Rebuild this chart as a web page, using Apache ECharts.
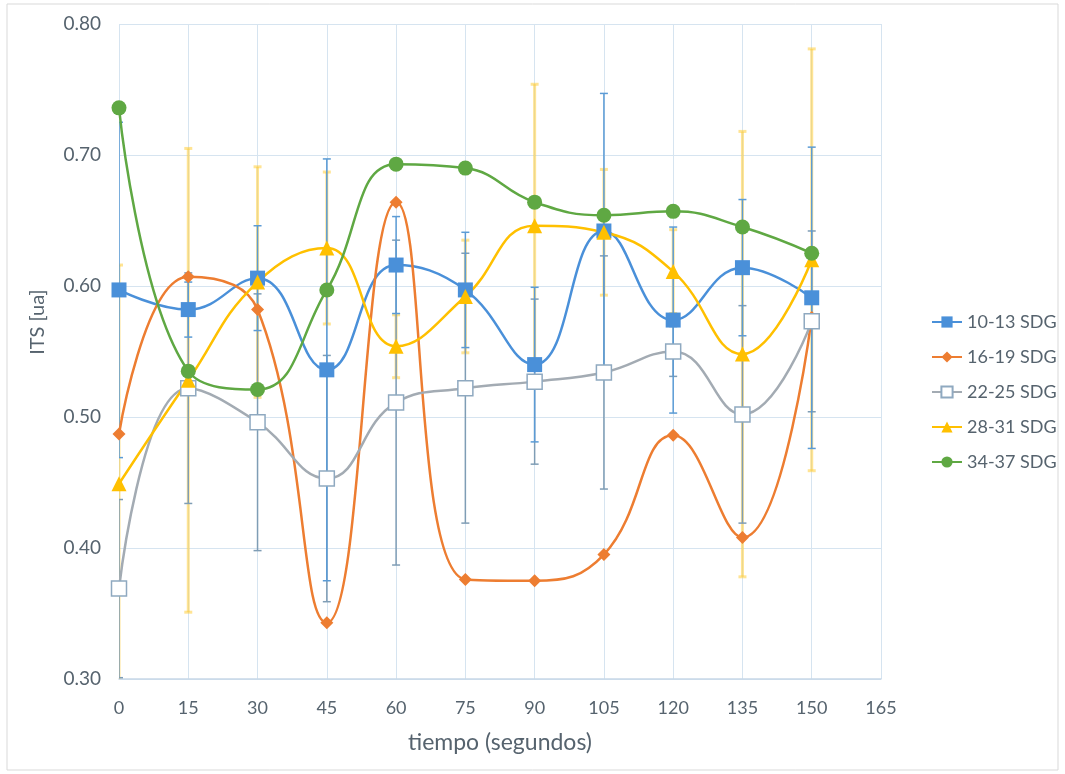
<!DOCTYPE html>
<html><head><meta charset="utf-8">
<script src="https://cdn.jsdelivr.net/npm/echarts@6/dist/echarts.min.js"></script>
<style>html,body{margin:0;padding:0;background:#fff}#c{width:1065px;height:774px}</style>
</head><body><div id="c"></div>
<script>
const times = [0,15,30,45,60,75,90,105,120,135,150];
const xTicks = [0,15,30,45,60,75,90,105,120,135,150,165];
const seriesNames = ['10-13 SDG','16-19 SDG','22-25 SDG','28-31 SDG','34-37 SDG'];
const s1013 = [0.597,0.582,0.606,0.536,0.616,0.597,0.540,0.642,0.574,0.614,0.591];
const s1619 = [0.487,0.607,0.582,0.343,0.664,0.376,0.375,0.395,0.486,0.408,0.576];
const s2225 = [0.369,0.522,0.496,0.453,0.511,0.522,0.527,0.534,0.550,0.502,0.573];
const s2831 = [0.449,0.528,0.603,0.629,0.554,0.592,0.646,0.641,0.611,0.548,0.620];
const s3437 = [0.736,0.535,0.521,0.597,0.693,0.690,0.664,0.654,0.657,0.645,0.625];
const e1013 = [0.128,0.021,0.040,0.161,0.037,0.044,0.059,0.105,0.071,0.052,0.115];
const e2225 = [0.068,0.088,0.098,0.094,0.124,0.103,0.063,0.089,0.019,0.083,0.069];
const e2831 = [0.167,0.177,0.088,0.058,0.024,0.043,0.108,0.048,0.032,0.170,0.161];
const yTitle = 'ITS [ua]';
const xTitle = 'tiempo (segundos)';

const FONT = 'Lato';
const TXT = '#56636e';
const GRIDC = '#d6e4f0';

function pairs(vals){ return times.map((t,i)=>[t, vals[i]]); }
function errData(vals, errs){ return times.map((t,i)=>[t, vals[i]-errs[i], vals[i]+errs[i]]); }
function errSeries(vals, errs, color, lw){
  return {
    type:'custom', z:1, silent:true, clip:true,
    data: errData(vals, errs),
    renderItem: function(params, api){
      const x = api.value(0), lo = api.value(1), hi = api.value(2);
      const p1 = api.coord([x, hi]), p2 = api.coord([x, lo]);
      const w = 4;
      const st = {stroke: color, lineWidth: lw};
      return {type:'group', children:[
        {type:'line', shape:{x1:p1[0], y1:p1[1], x2:p2[0], y2:p2[1]}, style:st},
        {type:'line', shape:{x1:p1[0]-w, y1:p1[1], x2:p1[0]+w, y2:p1[1]}, style:st},
        {type:'line', shape:{x1:p2[0]-w, y1:p2[1], x2:p2[0]+w, y2:p2[1]}, style:st}
      ]};
    }
  };
}
function lineSeries(name, vals, color, symbol, size, extra){
  return Object.assign({
    name: name, type:'line', smooth:0.45, z:3,
    data: pairs(vals), symbol: symbol, symbolSize: size,
    lineStyle:{color: color, width: 2.5},
    itemStyle:{color: color},
    emphasis:{disabled:true}
  }, extra||{});
}

const chart = echarts.init(document.getElementById('c'), null, {renderer:'canvas'});
chart.setOption({
  animation:false,
  backgroundColor:'#fff',
  textStyle:{fontFamily: FONT},
  graphic:[
    {type:'rect', shape:{x:7, y:4, width:1051, height:766}, style:{fill:'none', stroke:'#d9d9d9', lineWidth:1}, silent:true},
    {type:'text', x:38, y:322, rotation:Math.PI/2, silent:true,
      style:{text:yTitle, fill:TXT, fontSize:20, fontFamily:FONT, textAlign:'center', textVerticalAlign:'middle'}}
  ],
  grid:{left:119, top:24, width:762, height:655},
  legend:{
    orient:'vertical', left:926, top:308, itemGap:17, itemWidth:30, itemHeight:14,
    data: seriesNames,
    textStyle:{color:TXT, fontSize:18, fontFamily:FONT}
  },
  xAxis:{
    type:'value', min:0, max:165, interval:15,
    name:xTitle, nameLocation:'middle', nameGap:52,
    nameTextStyle:{color:TXT, fontSize:23, fontFamily:FONT},
    axisLine:{show:true, lineStyle:{color:'#c8d8e8', width:1.5}},
    axisTick:{show:false},
    axisLabel:{color:TXT, fontSize:18, margin:20, fontFamily:FONT,
      formatter: v => xTicks.indexOf(v) >= 0 ? String(v) : ''},
    splitLine:{show:true, lineStyle:{color:GRIDC, width:1}}
  },
  yAxis:{
    type:'value', min:0.3, max:0.8, interval:0.1,
    axisLine:{show:false}, axisTick:{show:false},
    axisLabel:{color:TXT, fontSize:19, margin:18, fontFamily:FONT, formatter: v => v.toFixed(2)},
    splitLine:{show:true, lineStyle:{color:GRIDC, width:1}}
  },
  series:[
    errSeries(s2831, e2831, 'rgba(255,205,60,0.55)', 3),
    errSeries(s2225, e2225, '#7f9db5', 1.5),
    errSeries(s1013, e1013, '#5b9bd5', 1.5),
    lineSeries(seriesNames[0], s1013, '#4a90d9', 'rect', 15),
    lineSeries(seriesNames[1], s1619, '#ed7d31', 'diamond', 13),
    lineSeries(seriesNames[2], s2225, '#a3abb3', 'rect', 15, {
      itemStyle:{color:'#ffffff', borderColor:'#8fa9c0', borderWidth:1.5},
      lineStyle:{color:'#a3abb3', width:2.5}
    }),
    lineSeries(seriesNames[3], s2831, '#ffc000', 'triangle', 15),
    lineSeries(seriesNames[4], s3437, '#5fa843', 'circle', 15)
  ]
});
</script></body></html>
